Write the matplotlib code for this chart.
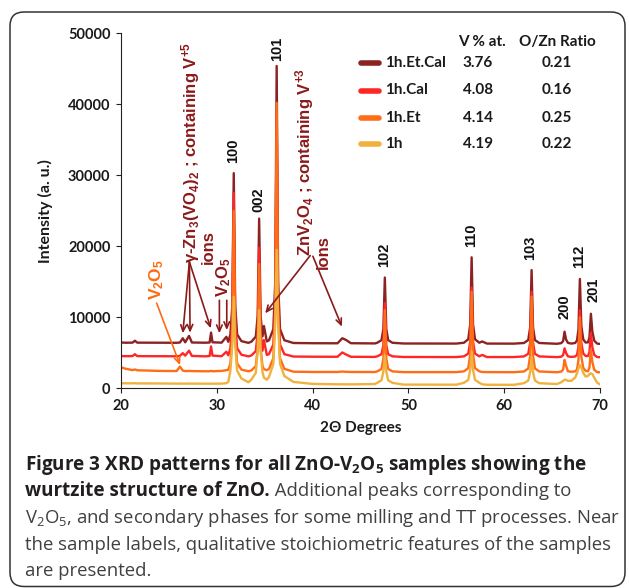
import matplotlib
matplotlib.use('Agg')
import matplotlib.pyplot as plt
from matplotlib.patches import FancyBboxPatch
from matplotlib.lines import Line2D
from matplotlib.transforms import IdentityTransform

# ------------ DATA ----------------------------------------

two_theta = [20.0, 20.5, 21.2, 21.45, 21.7, 24.0, 25.8, 26.15, 26.45, 26.7,
             27.1, 27.4, 28.8, 29.25, 29.4, 29.55, 30.5, 31.0, 31.2, 31.42,
             31.62, 31.77, 31.92, 32.12, 32.57, 33.3, 33.62, 34.07, 34.27, 34.42,
             34.57, 34.77, 34.92, 35.22, 35.45, 35.9, 36.1, 36.25, 36.4, 36.6,
             37.05, 38.0, 40.0, 42.6, 43.1, 43.5, 44.0, 46.5, 46.74, 47.19,
             47.39, 47.54, 47.69, 47.89, 48.34, 49.5, 55.0, 55.8, 56.25, 56.45,
             56.6, 56.75, 56.95, 57.4, 57.7, 58.2, 61.0, 62.06, 62.51, 62.71,
             62.86, 63.01, 63.21, 63.66, 65.5, 65.95, 66.15, 66.3, 66.45, 66.65,
             67.0, 67.4, 67.6, 67.75, 67.9, 68.05, 68.25, 68.5, 68.75, 68.9,
             69.05, 69.2, 69.4, 69.7, 70.0]

int_1h_et_cal = [6450, 6420, 6430, 6700, 6430, 6420, 6410, 6450, 7050, 6480,
                 7380, 6450, 6420, 6450, 7850, 6480, 6430, 7250, 6550, 7600,
                 11660, 30300, 11660, 7600, 6640, 6400, 6575, 7275, 10250, 23900,
                 10250, 7300, 8770, 6600, 6770, 8330, 14960, 45400, 14960, 8330,
                 6770, 6380, 6350, 6340, 7050, 6800, 6350, 6320, 6410, 6780,
                 8360, 15600, 8360, 6780, 6410, 6310, 6300, 6420, 6910, 8970,
                 18450, 8970, 6910, 6420, 6600, 6300, 6290, 6380, 6800, 8560,
                 16650, 8560, 6800, 6380, 6270, 6360, 6640, 7970, 6900, 6400,
                 6300, 6380, 6730, 8270, 15400, 8800, 6900, 6450, 6470, 7190,
                 10500, 8000, 6700, 6300, 6250]

int_1h_cal = [4550, 4520, 4540, 4800, 4530, 4520, 4510, 4560, 4950, 4600,
              5300, 4560, 4500, 4550, 5900, 4600, 4520, 5150, 4650, 5650,
              9560, 27500, 9560, 5650, 4730, 4500, 4630, 5250, 7850, 19800,
              7850, 5300, 6800, 4700, 4810, 6170, 11960, 38500, 11960, 6170,
              4810, 4470, 4450, 4440, 5050, 4750, 4440, 4420, 4500, 4800,
              6090, 12000, 6090, 4800, 4500, 4410, 4400, 4500, 4890, 6560,
              14200, 6560, 4890, 4500, 4700, 4400, 4400, 4490, 4860, 6420,
              13600, 6420, 4860, 4490, 4390, 4450, 4660, 5630, 5000, 4500,
              4420, 4470, 4720, 5840, 11000, 6400, 4900, 4550, 4550, 5120,
              7750, 5800, 4700, 4400, 4380]

int_1h_et = [2950, 2750, 2560, 2650, 2540, 2450, 2430, 3050, 2500, 2420,
             2450, 2420, 2400, 2400, 2450, 2400, 2450, 2550, 2600, 3530,
             7370, 25000, 7370, 3530, 2630, 2400, 2530, 3140, 5710, 17500,
             5710, 3150, 2700, 2550, 2740, 4250, 10680, 40200, 10680, 4250,
             2740, 2340, 2300, 2300, 2360, 2320, 2300, 2290, 2380, 2725,
             4210, 11000, 4210, 2725, 2380, 2280, 2280, 2390, 2850, 4770,
             13600, 4770, 2850, 2390, 2300, 2280, 2270, 2370, 2790, 4600,
             12900, 4600, 2790, 2370, 2260, 2350, 2640, 4000, 3200, 2400,
             2330, 2380, 2650, 3960, 10000, 4500, 2900, 2450, 2410, 2940,
             5400, 3700, 2600, 2280, 2250]

int_1h = [720, 700, 700, 720, 690, 680, 660, 660, 660, 660,
          660, 660, 650, 650, 650, 650, 660, 720, 900, 2490,
          6160, 12900, 6160, 2490, 1385, 850, 1240, 2180, 5290, 11000,
          5290, 2300, 1500, 1200, 1600, 3440, 9100, 19500, 9100, 3440,
          1730, 900, 620, 560, 560, 560, 550, 600, 765, 1130,
          2360, 4600, 2360, 1130, 765, 520, 510, 780, 1200, 2590,
          5150, 2590, 1200, 780, 560, 500, 490, 720, 1080, 2270,
          4450, 2270, 1080, 720, 600, 850, 1050, 1200, 1200, 1050,
          1050, 1500, 2100, 2800, 3300, 2900, 2200, 1650, 1750, 2000,
          2100, 2000, 1500, 800, 550]

samples = ['1h.Et.Cal', '1h.Cal', '1h.Et', '1h']
v_percent = ['3.76', '4.08', '4.14', '4.19']
o_zn_ratio = ['0.21', '0.16', '0.25', '0.22']

# ZnO reflections: label, 2theta, label bottom (intensity)
hkl = ['100', '002', '101', '102', '110', '103', '200', '112', '201']
hkl_pos = [31.70, 34.32, 36.30, 47.48, 56.54, 62.74, 66.29, 67.86, 69.32]
hkl_y = [31700, 24900, 46100, 17100, 19900, 18100, 9800, 16900, 12200]

# ------------ STYLE -----------------

W, H = 629, 588
colors = ['#8c2222', '#ff2626', '#ff6d17', '#f0b13e']
darkred = '#8b1a1a'
orange = '#ff6a10'
tick_font = ['Lato', 'DejaVu Sans']
ann_font = ['Liberation Sans', 'DejaVu Sans']
cap_font = ['Open Sans', 'DejaVu Sans']


def fig_xy(px, py):
    """pixel position in the picture (from top-left) -> figure fraction"""
    return px / W, 1 - py / H


fig = plt.figure(figsize=(W / 100, H / 100), dpi=100)
ax = fig.add_axes([121 / W, 1 - 388.3 / H, 479 / W, 355 / H])

series = [int_1h_et_cal, int_1h_cal, int_1h_et, int_1h]
for ys, c in zip(series, colors):
    ax.plot(two_theta, ys, color=c, lw=1.7, solid_joinstyle='round')

ax.set_xlim(20, 70)
ax.set_ylim(0, 50000)
ax.set_xticks(range(20, 71, 10))
ax.set_yticks(range(0, 50001, 10000))
for s in ['top', 'right']:
    ax.spines[s].set_visible(False)
for s in ['left', 'bottom']:
    ax.spines[s].set_color('#222222')
    ax.spines[s].set_linewidth(0.8)
ax.tick_params(direction='out', length=3.6, width=0.8, color='#222222',
               labelsize=10.5, pad=4)
for lab in ax.get_xticklabels() + ax.get_yticklabels():
    lab.set_fontfamily(tick_font)
    lab.set_fontweight('bold')
    lab.set_color('#1a1a1a')

ax.set_ylabel('Intensity (a. u.)', fontsize=11.5, fontweight='bold',
              family=tick_font, color='#1a1a1a', labelpad=11)
ax.set_xlabel('2Θ Degrees', fontsize=11, fontweight='bold',
              family=tick_font, color='#1a1a1a', labelpad=6)

# hkl labels
for lab, xp, yp in zip(hkl, hkl_pos, hkl_y):
    ax.text(xp, yp, lab, rotation=90, ha='center', va='bottom',
            fontsize=10.5, fontweight='bold', family=ann_font, color='#111111')

# ------------ ANNOTATIONS -----------------

arrow = dict(arrowstyle='->,head_length=0.45,head_width=0.2', lw=1.2,
             shrinkA=0, shrinkB=0)

# V2O5 on 1h.Et
ax.text(23.72, 12500, r'$\mathregular{V_2O_5}$', rotation=90, ha='center',
        va='bottom', fontsize=12.5, fontweight='bold', family=ann_font,
        color=orange)
ax.annotate('', xy=(26.17, 3250), xytext=(23.72, 12000),
            arrowprops=dict(arrow, color=orange))

# gamma-Zn3(VO4)2
ax.text(27.25, 17600,
        r'$\mathregular{\gamma}$-Zn$\mathregular{_3}$(VO$\mathregular{_4}$)'
        r'$\mathregular{_2}$ ; containing V$\mathregular{^{+5}}$',
        rotation=90, ha='center', va='bottom', fontsize=12,
        fontweight='bold', family=ann_font, color=darkred)
ax.text(29.1, 17500, 'ions', rotation=90, ha='center', va='bottom',
        fontsize=12, fontweight='bold', family=ann_font, color=darkred)
for tx, ty in [(26.45, 7750), (27.21, 7830), (29.37, 8450)]:
    ax.annotate('', xy=(tx, ty), xytext=(27.14, 17800),
                arrowprops=dict(arrow, color=darkred))

# V2O5 on calcined samples
ax.text(30.72, 12900, r'$\mathregular{V_2O_5}$', rotation=90, ha='center',
        va='bottom', fontsize=12, fontweight='bold', family=ann_font,
        color=darkred)
ax.annotate('', xy=(30.27, 7750), xytext=(30.27, 12400),
            arrowprops=dict(arrow, color=darkred))
ax.annotate('', xy=(31.04, 8200), xytext=(31.04, 12400),
            arrowprops=dict(arrow, color=darkred))

# ZnV2O4
ax.text(39.2, 18650,
        r'ZnV$\mathregular{_2}$O$\mathregular{_4}$ ; containing '
        r'V$\mathregular{^{+3}}$',
        rotation=90, ha='center', va='bottom', fontsize=12,
        fontweight='bold', family=ann_font, color=darkred)
ax.annotate('', xy=(35.05, 10560), xytext=(39.75, 18700),
            arrowprops=dict(arrow, color=darkred))
ax.annotate('', xy=(43.06, 8680), xytext=(40.03, 18600),
            arrowprops=dict(arrow, color=darkred))
ax.text(41.15, 16800, 'ions', rotation=90, ha='center', va='bottom',
        fontsize=12, fontweight='bold', family=ann_font, color=darkred)

# ------------ LEGEND WITH STOICHIOMETRY -----------------

row_y = [63, 90.5, 117.5, 144]
fig.text(*fig_xy(482, 42), 'V % at.', ha='center', va='center',
         fontsize=11, fontweight='bold', family=tick_font, color='#1a1a1a')
fig.text(*fig_xy(557, 42), 'O/Zn Ratio', ha='center', va='center',
         fontsize=11, fontweight='bold', family=tick_font, color='#1a1a1a')
for name, v, r, c, py in zip(samples, v_percent, o_zn_ratio, colors, row_y):
    x0, y0 = fig_xy(361, py)
    x1, _ = fig_xy(379, py)
    fig.add_artist(Line2D([x0, x1], [y0, y0], color=c, lw=4,
                          solid_capstyle='round'))
    fig.text(*fig_xy(385, py), name, ha='left', va='center', fontsize=11,
             fontweight='bold', family=tick_font, color='#1a1a1a')
    fig.text(*fig_xy(478, py), v, ha='center', va='center', fontsize=11,
             fontweight='bold', family=tick_font, color='#1a1a1a')
    fig.text(*fig_xy(557, py), r, ha='center', va='center', fontsize=11,
             fontweight='bold', family=tick_font, color='#1a1a1a')

# ------------ FRAME AND CAPTION -----------------

frame = FancyBboxPatch((10, 1.5), 615, 574.5,
                       boxstyle='round,pad=0,rounding_size=14',
                       transform=IdentityTransform(), fill=False,
                       edgecolor='#333333', lw=1.1)
fig.add_artist(frame)

bold_size = 13.6
reg_size = 13.3
bold_c = '#231f20'
reg_c = '#404040'
renderer = fig.canvas.get_renderer()

fig.text(*fig_xy(25, 470),
         r'Figure 3 XRD patterns for all ZnO-V$\mathregular{_2}$O'
         r'$\mathregular{_5}$ samples showing the',
         ha='left', va='baseline', fontsize=bold_size, fontweight='bold',
         family=cap_font, color=bold_c)
t_b = fig.text(*fig_xy(25, 496.5), 'wurtzite structure of ZnO.', ha='left',
               va='baseline', fontsize=bold_size, fontweight='bold',
               family=cap_font, color=bold_c)
x_end = t_b.get_window_extent(renderer).x1 / W
fig.text(x_end, fig_xy(0, 496.5)[1], ' Additional peaks corresponding to',
         ha='left', va='baseline', fontsize=reg_size, family=cap_font,
         color=reg_c)
reg_lines = [r'V$\mathregular{_2}$O$\mathregular{_5}$, and secondary phases '
             r'for some milling and TT processes. Near',
             'the sample labels, qualitative stoichiometric features of '
             'the samples',
             'are presented.']
for line, py in zip(reg_lines, [523, 549.5, 576]):
    fig.text(*fig_xy(25, py), line, ha='left', va='baseline',
             fontsize=reg_size, family=cap_font, color=reg_c)

fig.savefig('out.png', dpi=100)
